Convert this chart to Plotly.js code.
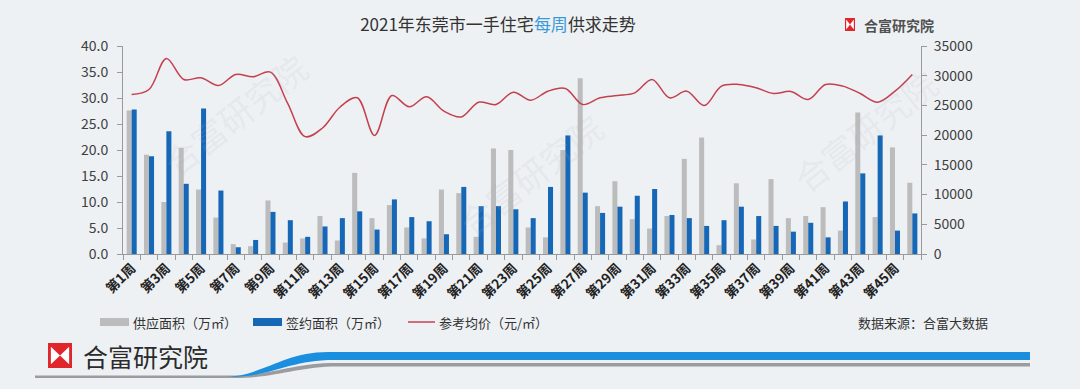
<!DOCTYPE html>
<html>
<head>
<meta charset="utf-8">
<script src="https://cdn.plot.ly/plotly-3.0.1.min.js"></script>
<style>
html,body{margin:0;padding:0;background:#eef1f4;}
#chart{width:1080px;height:389px;}
</style>
</head>
<body>
<div id="chart"></div>
<script>
const weeks = ['第1周','第2周','第3周','第4周','第5周','第6周','第7周','第8周','第9周','第10周',
  '第11周','第12周','第13周','第14周','第15周','第16周','第17周','第18周','第19周','第20周',
  '第21周','第22周','第23周','第24周','第25周','第26周','第27周','第28周','第29周','第30周',
  '第31周','第32周','第33周','第34周','第35周','第36周','第37周','第38周','第39周','第40周',
  '第41周','第42周','第43周','第44周','第45周','第46周'];
// tick labels shown on the axis (every other week is blank, as in the original)
const tickText = ['第1周','','第3周','','第5周','','第7周','','第9周','',
  '第11周','','第13周','','第15周','','第17周','','第19周','',
  '第21周','','第23周','','第25周','','第27周','','第29周','',
  '第31周','','第33周','','第35周','','第37周','','第39周','',
  '第41周','','第43周','','第45周',''];
const supply = [27.6,19.1,10.0,20.4,12.4,7.0,1.9,1.5,10.3,2.2,
  3.0,7.3,2.6,15.6,6.9,9.4,5.1,3.0,12.4,11.7,
  3.3,20.3,20.0,5.1,3.2,20.0,33.8,9.2,14.0,6.7,
  4.9,7.3,18.3,22.4,1.7,13.6,2.8,14.4,6.9,7.3,
  9.0,4.5,27.2,7.1,20.5,13.7];
const signed = [27.8,18.8,23.6,13.5,28.0,12.2,1.3,2.7,8.1,6.5,
  3.3,5.3,6.9,8.2,4.7,10.5,7.1,6.3,3.8,12.9,
  9.2,9.2,8.6,6.9,12.9,22.8,11.8,7.9,9.1,11.2,
  12.5,7.5,6.9,5.4,6.5,9.1,7.3,5.4,4.3,6.0,
  3.2,10.1,15.5,22.8,4.5,7.8];
const price = [26840,27680,32900,29370,29650,28360,30220,29820,30610,25300,
  19750,21200,24700,26300,19950,26670,24760,26450,24030,23070,
  25550,25150,27230,25880,27400,27850,25150,26280,26670,27120,
  29370,26280,27400,24980,28250,28530,27960,27000,27350,26000,
  28530,28250,27000,25550,27400,30220];
const seriesNames = ['供应面积（万㎡）','签约面积（万㎡）','参考均价（元/㎡）'];
const colors = {supply:'#bcbcbc', signed:'#1767b7', price:'#c4404f'};

// pixel -> paper helpers (plot area: x 123..921, y 46..254)
const L=123, R=921, T=46, B=254;
const px = x => (x-L)/(R-L);
const py = y => (B-y)/(B-T);
const P = pts => pts.map(p => (typeof p === 'string') ? p : (px(p[0]).toFixed(5)+','+py(p[1]).toFixed(5))).join(' ');

const FONT = '"Noto Sans CJK SC", "Noto Sans", sans-serif';

const traces = [
  {type:'bar', name:seriesNames[0], x:weeks, y:supply, marker:{color:colors.supply}, xaxis:'x', yaxis:'y'},
  {type:'bar', name:seriesNames[1], x:weeks, y:signed, marker:{color:colors.signed}, xaxis:'x', yaxis:'y'},
  {type:'scatter', mode:'lines', name:seriesNames[2], x:weeks, y:price, xaxis:'x', yaxis:'y2',
   line:{color:colors.price, width:1.5, shape:'spline', smoothing:1}}
];

const shapes = [];
const annotations = [];

// Legend (custom)
shapes.push({type:'rect', xref:'paper', yref:'paper', x0:px(100), x1:px(129), y0:py(326), y1:py(318), fillcolor:colors.supply, line:{width:0}});
shapes.push({type:'rect', xref:'paper', yref:'paper', x0:px(253), x1:px(282), y0:py(326), y1:py(318), fillcolor:colors.signed, line:{width:0}});
shapes.push({type:'line', xref:'paper', yref:'paper', x0:px(408), x1:px(435), y0:py(322), y1:py(322), line:{color:colors.price, width:1.5}});
[[131,seriesNames[0]],[284,seriesNames[1]],[437,seriesNames[2]]].forEach(([x,t])=>{
  annotations.push({xref:'paper', yref:'paper', x:px(x), y:py(322), xanchor:'left', yanchor:'middle', showarrow:false,
    text:t, font:{family:FONT, size:13, color:'#333'}});
});
annotations.push({xref:'paper', yref:'paper', x:px(856), y:py(322), xanchor:'left', yanchor:'middle', showarrow:false,
  text:'数据来源：合富大数据', font:{family:FONT, size:13, color:'#333'}});

function logo(x0,y0,w,h){
  shapes.push({type:'rect', xref:'paper', yref:'paper', x0:px(x0), x1:px(x0+w), y0:py(y0+h), y1:py(y0), fillcolor:'#e0262b', line:{width:0}});
  const m = Math.max(1, w*0.12);
  shapes.push({type:'path', xref:'paper', yref:'paper', fillcolor:'#ffffff', line:{width:0},
    path:'M '+P([[x0+m,y0+m*1.3],'L',[x0+w/2,y0+h/2],'L',[x0+m,y0+h-m*1.3]])+' Z'});
  shapes.push({type:'path', xref:'paper', yref:'paper', fillcolor:'#ffffff', line:{width:0},
    path:'M '+P([[x0+w-m,y0+m*1.3],'L',[x0+w/2,y0+h/2],'L',[x0+w-m,y0+h-m*1.3]])+' Z'});
}
// Top-right logo
logo(845,18,10,13);
annotations.push({xref:'paper', yref:'paper', x:px(862), y:py(25), xanchor:'left', yanchor:'middle', showarrow:false,
  text:'<b>合富研究院</b>', font:{family:FONT, size:14, color:'#505050'}});

// Bottom banner
logo(48,343,24,25);
annotations.push({xref:'paper', yref:'paper', x:px(81), y:py(356), xanchor:'left', yanchor:'middle', showarrow:false,
  text:'合富研究院', font:{family:FONT, size:25, color:'#2b2b2b'}});
shapes.push({type:'path', xref:'paper', yref:'paper', fillcolor:'#9a9ca0', line:{width:0},
  path:'M '+P([[35,375.5],'L',[232,375.5],'C',[272,375.5],[292,363],[336,363],'L',[1030,363],'L',[1030,366.5],'L',[338,366.5],'C',[297,366.5],[277,378],[234,378],'L',[35,378]])+' Z'});
shapes.push({type:'path', xref:'paper', yref:'paper', fillcolor:'#1a8fe0', line:{width:0},
  path:'M '+P([[222,377],'C',[262,377],[282,352],[328,352],'L',[1030,352],'L',[1030,360],'L',[334,360],'C',[290,360],[272,376],[234,377]])+' Z'});

// faint watermarks
[[150,40],[530,100],[950,205]].forEach(([x,y])=>{
  annotations.push({xref:'paper', yref:'paper', x:px(x), y:py(y), showarrow:false, textangle:-38,
    text:'合富研究院', font:{family:FONT, size:34, color:'rgba(170,175,185,0.14)'}});
});

const axisCommon = {showgrid:false, zeroline:false, showline:true, linecolor:'#9a9a9a', linewidth:1,
  ticks:'outside', ticklen:5, tickcolor:'#9a9a9a', tickfont:{family:FONT, size:14, color:'#404040'}};

const layout = {
  width:1080, height:389,
  paper_bgcolor:'#eef1f4', plot_bgcolor:'rgba(0,0,0,0)',
  margin:{l:L, r:1080-R, t:T, b:389-B, pad:0},
  showlegend:false,
  barmode:'group', bargap:0.42, bargroupgap:0,
  font:{family:FONT, color:'#333'},
  title:{text:'2021年东莞市一手住宅<span style="color:#3a9ad9">每周</span>供求走势',
    x:498/1080, xanchor:'center', xref:'container', y:1-25/389, yanchor:'middle', yref:'container',
    font:{family:FONT, size:17, color:'#333'}},
  xaxis:{type:'category', categoryarray:weeks, categoryorder:'array', range:[-0.5,45.5],
    tickmode:'array', tickvals:weeks, ticktext:tickText, ticks:'outside', tickson:'boundaries', ticklen:5, tickcolor:'#9a9a9a',
    tickangle:-45, showgrid:false, zeroline:false,
    showline:true, linecolor:'#9a9a9a', tickfont:{family:FONT, size:13.5, color:'#222', weight:'bold'}, anchor:'y'},
  yaxis:Object.assign({}, axisCommon, {range:[0,40], dtick:5, tickformat:'.1f', ticklabelstandoff:6}),
  yaxis2:Object.assign({}, axisCommon, {range:[0,35000], dtick:5000, tickformat:'d', overlaying:'y', side:'right', anchor:'x', ticklabelstandoff:4}),
  shapes:shapes,
  annotations:annotations
};

Plotly.newPlot('chart', traces, layout, {displayModeBar:false, staticPlot:true});
</script>
</body>
</html>
